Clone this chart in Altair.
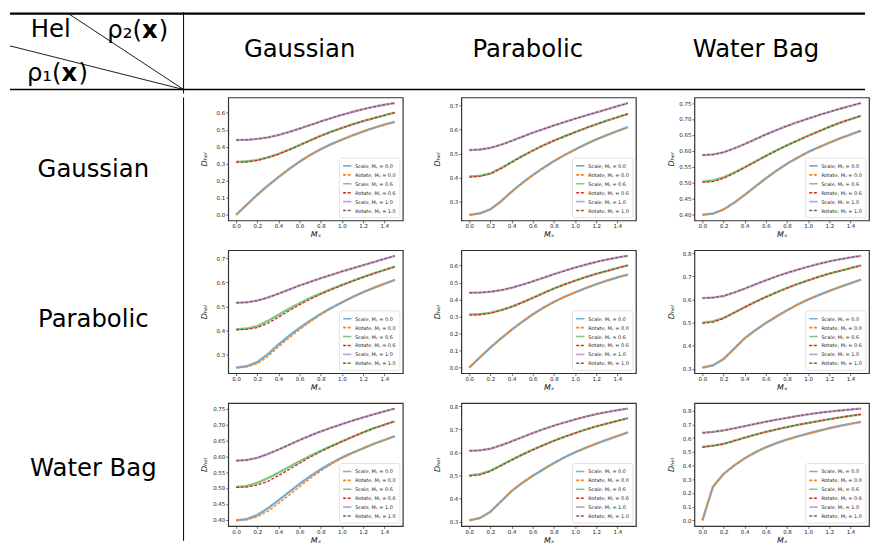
import altair as alt
import pandas as pd

# ---------------- data ----------------
X_MX = [0.0, 0.1, 0.2, 0.3, 0.4, 0.5, 0.6, 0.7, 0.8, 0.9, 1.0, 1.1, 1.2, 1.3, 1.4, 1.5]
X_TICKS = [0.0, 0.2, 0.4, 0.6, 0.8, 1.0, 1.2, 1.4]
DENSITIES = ["Gaussian", "Parabolic", "Water Bag"]
SERIES = ["Scale, Mᵧ = 0.0", "Rotate, Mᵧ = 0.0", "Scale, Mᵧ = 0.6",
          "Rotate, Mᵧ = 0.6", "Scale, Mᵧ = 1.0", "Rotate, Mᵧ = 1.0"]
SERIES_COLORS = ["#79add2", "#ff7f0e", "#80c680", "#d62728", "#bfa4d7", "#8c564b"]
SERIES_DASH = [[1, 0], [3, 1.6], [1, 0], [3, 1.6], [1, 0], [3, 1.6]]

# Gaussian / Gaussian (Parabolic / Parabolic reads the same)
GG_S0 = [0.000, 0.060, 0.118, 0.172, 0.222, 0.269, 0.313, 0.352, 0.386, 0.416, 0.442, 0.467, 0.490, 0.511, 0.530, 0.547]
GG_R0 = [0.000, 0.060, 0.118, 0.172, 0.222, 0.269, 0.313, 0.352, 0.386, 0.416, 0.442, 0.467, 0.490, 0.511, 0.530, 0.547]
GG_S6 = [0.312, 0.314, 0.322, 0.338, 0.358, 0.383, 0.410, 0.438, 0.465, 0.489, 0.511, 0.532, 0.551, 0.568, 0.585, 0.601]
GG_R6 = [0.309, 0.311, 0.320, 0.336, 0.357, 0.382, 0.409, 0.437, 0.464, 0.489, 0.511, 0.532, 0.551, 0.568, 0.585, 0.601]
GG_S10 = [0.440, 0.441, 0.446, 0.455, 0.469, 0.487, 0.507, 0.528, 0.549, 0.569, 0.588, 0.605, 0.621, 0.635, 0.647, 0.657]
GG_R10 = [0.440, 0.441, 0.446, 0.455, 0.469, 0.487, 0.507, 0.528, 0.549, 0.569, 0.588, 0.605, 0.621, 0.635, 0.647, 0.657]

# Gaussian rho1 / Parabolic rho2
GP_S0 = [0.246, 0.252, 0.269, 0.302, 0.342, 0.378, 0.411, 0.441, 0.469, 0.494, 0.517, 0.539, 0.559, 0.577, 0.594, 0.610]
GP_R0 = [0.246, 0.252, 0.269, 0.302, 0.342, 0.378, 0.411, 0.441, 0.469, 0.494, 0.517, 0.539, 0.559, 0.577, 0.594, 0.610]
GP_S6 = [0.405, 0.408, 0.418, 0.440, 0.465, 0.490, 0.513, 0.535, 0.554, 0.572, 0.589, 0.606, 0.622, 0.637, 0.651, 0.665]
GP_R6 = [0.403, 0.406, 0.416, 0.438, 0.464, 0.489, 0.512, 0.534, 0.554, 0.572, 0.589, 0.606, 0.622, 0.637, 0.651, 0.665]
GP_S10 = [0.515, 0.517, 0.524, 0.537, 0.553, 0.570, 0.587, 0.602, 0.617, 0.631, 0.645, 0.658, 0.671, 0.684, 0.697, 0.710]
GP_R10 = [0.515, 0.517, 0.524, 0.537, 0.553, 0.570, 0.587, 0.602, 0.617, 0.631, 0.645, 0.658, 0.671, 0.684, 0.697, 0.710]
# Parabolic rho1 / Gaussian rho2 : rotate curves sit a little lower
PG_R0 = [0.246, 0.249, 0.262, 0.292, 0.332, 0.369, 0.404, 0.436, 0.466, 0.492, 0.516, 0.538, 0.559, 0.577, 0.594, 0.610]
PG_R6 = [0.403, 0.405, 0.412, 0.430, 0.455, 0.482, 0.507, 0.530, 0.551, 0.570, 0.588, 0.605, 0.621, 0.636, 0.651, 0.665]

# Gaussian rho1 / Water Bag rho2
GW_S0 = [0.398, 0.402, 0.415, 0.436, 0.461, 0.487, 0.513, 0.537, 0.559, 0.578, 0.596, 0.611, 0.625, 0.639, 0.651, 0.663]
GW_R0 = [0.398, 0.402, 0.415, 0.436, 0.461, 0.487, 0.513, 0.537, 0.559, 0.578, 0.596, 0.611, 0.625, 0.639, 0.651, 0.663]
GW_S6 = [0.503, 0.506, 0.516, 0.531, 0.548, 0.566, 0.584, 0.601, 0.617, 0.632, 0.647, 0.661, 0.675, 0.688, 0.699, 0.710]
GW_R6 = [0.500, 0.503, 0.513, 0.529, 0.547, 0.565, 0.583, 0.600, 0.617, 0.632, 0.647, 0.661, 0.675, 0.688, 0.699, 0.710]
GW_S10 = [0.586, 0.588, 0.595, 0.607, 0.621, 0.636, 0.651, 0.665, 0.678, 0.690, 0.701, 0.712, 0.722, 0.732, 0.741, 0.750]
GW_R10 = [0.586, 0.588, 0.595, 0.607, 0.621, 0.636, 0.651, 0.665, 0.678, 0.690, 0.701, 0.712, 0.722, 0.732, 0.741, 0.750]
# Water Bag rho1 / Gaussian rho2 : rotate curves sit a little lower
WG_R0 = [0.398, 0.400, 0.409, 0.427, 0.451, 0.477, 0.504, 0.530, 0.554, 0.575, 0.594, 0.610, 0.624, 0.638, 0.651, 0.663]
WG_R6 = [0.502, 0.503, 0.509, 0.521, 0.539, 0.558, 0.578, 0.597, 0.615, 0.631, 0.646, 0.661, 0.675, 0.688, 0.699, 0.710]

# Parabolic / Water Bag (either order)
PW_S0 = [0.305, 0.315, 0.342, 0.387, 0.432, 0.467, 0.498, 0.526, 0.553, 0.578, 0.600, 0.619, 0.637, 0.654, 0.670, 0.686]
PW_R0 = [0.305, 0.315, 0.342, 0.387, 0.432, 0.467, 0.498, 0.526, 0.553, 0.578, 0.600, 0.619, 0.637, 0.654, 0.670, 0.686]
PW_S6 = [0.500, 0.505, 0.520, 0.543, 0.567, 0.590, 0.611, 0.631, 0.650, 0.667, 0.683, 0.698, 0.712, 0.724, 0.736, 0.747]
PW_R6 = [0.497, 0.502, 0.518, 0.542, 0.566, 0.589, 0.610, 0.630, 0.649, 0.667, 0.683, 0.698, 0.712, 0.724, 0.736, 0.747]
PW_S10 = [0.606, 0.608, 0.615, 0.630, 0.647, 0.665, 0.683, 0.700, 0.715, 0.729, 0.742, 0.754, 0.765, 0.774, 0.782, 0.789]
PW_R10 = [0.606, 0.608, 0.615, 0.630, 0.647, 0.665, 0.683, 0.700, 0.715, 0.729, 0.742, 0.754, 0.765, 0.774, 0.782, 0.789]

# Water Bag / Water Bag
WW_S0 = [0.000, 0.245, 0.338, 0.400, 0.452, 0.496, 0.533, 0.563, 0.589, 0.612, 0.633, 0.653, 0.672, 0.689, 0.704, 0.718]
WW_R0 = [0.000, 0.245, 0.338, 0.400, 0.452, 0.496, 0.533, 0.563, 0.589, 0.612, 0.633, 0.653, 0.672, 0.689, 0.704, 0.718]
WW_S6 = [0.536, 0.545, 0.558, 0.580, 0.603, 0.625, 0.645, 0.663, 0.680, 0.696, 0.710, 0.724, 0.738, 0.750, 0.762, 0.773]
WW_R6 = [0.533, 0.543, 0.557, 0.579, 0.603, 0.625, 0.645, 0.663, 0.680, 0.696, 0.710, 0.724, 0.738, 0.750, 0.762, 0.773]
WW_S10 = [0.638, 0.645, 0.656, 0.671, 0.687, 0.703, 0.719, 0.734, 0.747, 0.761, 0.773, 0.784, 0.793, 0.801, 0.808, 0.815]
WW_R10 = [0.638, 0.645, 0.656, 0.671, 0.687, 0.703, 0.719, 0.734, 0.747, 0.761, 0.773, 0.784, 0.793, 0.801, 0.808, 0.815]

Y_TICKS_A = [0.0, 0.1, 0.2, 0.3, 0.4, 0.5, 0.6]
Y_TICKS_B = [0.3, 0.4, 0.5, 0.6, 0.7]
Y_TICKS_C = [0.40, 0.45, 0.50, 0.55, 0.60, 0.65, 0.70, 0.75]
Y_TICKS_D = [0.3, 0.4, 0.5, 0.6, 0.7, 0.8]
Y_TICKS_E = [0.0, 0.1, 0.2, 0.3, 0.4, 0.5, 0.6, 0.7, 0.8]

# (row = rho1, col = rho2)
PANELS = {
    (0, 0): ([GG_S0, GG_R0, GG_S6, GG_R6, GG_S10, GG_R10], Y_TICKS_A, ".1f"),
    (0, 1): ([GP_S0, GP_R0, GP_S6, GP_R6, GP_S10, GP_R10], Y_TICKS_B, ".1f"),
    (0, 2): ([GW_S0, GW_R0, GW_S6, GW_R6, GW_S10, GW_R10], Y_TICKS_C, ".2f"),
    (1, 0): ([GP_S0, PG_R0, GP_S6, PG_R6, GP_S10, GP_R10], Y_TICKS_B, ".1f"),
    (1, 1): ([GG_S0, GG_R0, GG_S6, GG_R6, GG_S10, GG_R10], Y_TICKS_A, ".1f"),
    (1, 2): ([PW_S0, PW_R0, PW_S6, PW_R6, PW_S10, PW_R10], Y_TICKS_D, ".1f"),
    (2, 0): ([GW_S0, WG_R0, GW_S6, WG_R6, GW_S10, GW_R10], Y_TICKS_C, ".2f"),
    (2, 1): ([PW_S0, PW_R0, PW_S6, PW_R6, PW_S10, PW_R10], Y_TICKS_D, ".1f"),
    (2, 2): ([WW_S0, WW_R0, WW_S6, WW_R6, WW_S10, WW_R10], Y_TICKS_E, ".1f"),
}

FONT = "DejaVu Sans"
PW_, PH_ = 176, 124          # plot area of each small panel
HEAD_W, HEAD_H = 862, 82     # header strip
HEAD_LINE = 78               # y of the rule under the header
LAB_W, BODY_H = 175, 447     # row-label column


def independent(ch):
    return ch.resolve_scale(color="independent", strokeDash="independent").resolve_legend(
        color="independent", strokeDash="independent")


def make_panel(series_lists, yticks, yfmt):
    recs = []
    for name, ys in zip(SERIES, series_lists):
        for xv, yv in zip(X_MX, ys):
            recs.append({"Mx": xv, "D": yv, "series": name, "kind": name.split(",")[0]})
    df = pd.DataFrame(recs)
    lo, hi = float(df["D"].min()), float(df["D"].max())
    pad = 0.05 * (hi - lo)
    leg = alt.Legend(title=None, orient="bottom-right", offset=3, fillColor="white",
                     strokeColor="#cfcfcf", cornerRadius=2, padding=3,
                     labelFontSize=5, labelFont=FONT, labelColor="#222222", labelOffset=3,
                     labelLimit=120, symbolType="stroke", symbolSize=70,
                     symbolStrokeWidth=1.6, rowPadding=0)
    base = alt.Chart(df).encode(
        x=alt.X("Mx:Q", scale=alt.Scale(domain=[-0.075, 1.575], nice=False, zero=False),
                axis=alt.Axis(values=X_TICKS, format=".1f", title="Mₓ")),
        y=alt.Y("D:Q", scale=alt.Scale(domain=[lo - pad, hi + pad], nice=False, zero=False),
                axis=alt.Axis(values=yticks, format=yfmt, title="Dₕₑₗ")),
        color=alt.Color("series:N", scale=alt.Scale(domain=SERIES, range=SERIES_COLORS), legend=leg),
        strokeDash=alt.StrokeDash("series:N", scale=alt.Scale(domain=SERIES, range=SERIES_DASH), legend=leg),
        order=alt.Order("Mx:Q"),
    )
    scale_lines = base.transform_filter(alt.datum.kind == "Scale").mark_line(strokeWidth=2.4)
    rotate_lines = base.transform_filter(alt.datum.kind == "Rotate").mark_line(strokeWidth=1.3)
    return alt.layer(scale_lines, rotate_lines).properties(width=PW_, height=PH_)


one = pd.DataFrame({"k": [0]})


def rule(x, y, x2=None, y2=None, w=1.0):
    enc = {"x": alt.value(x), "y": alt.value(y)}
    if x2 is not None:
        enc["x2"] = alt.value(x2)
    if y2 is not None:
        enc["y2"] = alt.value(y2)
    return alt.Chart(one).mark_rule(color="black", strokeWidth=w).encode(**enc)


def text(s, x, y, align="center", baseline="middle", size=24.5, weight="normal"):
    return alt.Chart(one).mark_text(text=s, font=FONT, fontSize=size, fontWeight=weight,
                                    align=align, baseline=baseline, color="black").encode(
        x=alt.value(x), y=alt.value(y))


# ---------------- header strip ----------------
header_layers = [
    rule(0, 1.5, x2=HEAD_W, w=2.4),
    rule(0, HEAD_LINE, x2=HEAD_W, w=1.6),
    rule(LAB_W, 0, y2=HEAD_H, w=1.0),
    rule(59, 1.5, x2=LAB_W, y2=HEAD_LINE, w=0.9),
    rule(0, 34, x2=LAB_W, y2=HEAD_LINE, w=0.9),
    text("Hel", 21, 25, align="left", baseline="alphabetic"),
    text("ρ₂(", 133, 26, align="right", baseline="alphabetic"),
    text("x", 133, 26, align="left", baseline="alphabetic", weight="bold"),
    text(")", 150, 26, align="left", baseline="alphabetic"),
    text("ρ₁(", 52, 69, align="right", baseline="alphabetic"),
    text("x", 52, 69, align="left", baseline="alphabetic", weight="bold"),
    text(")", 69, 69, align="left", baseline="alphabetic"),
]
for name, cx in zip(DENSITIES, [292, 522, 752]):
    header_layers.append(text(name, cx, 38))
header = alt.layer(*header_layers).properties(
    width=HEAD_W, height=HEAD_H, view=alt.ViewBackground(stroke="transparent"))

# ---------------- row-label column ----------------
label_layers = [rule(LAB_W, 0, y2=BODY_H, w=1.0)]
for name, cy in zip(DENSITIES, [73, 224, 375]):
    label_layers.append(text(name, 84, cy))
labels = alt.layer(*label_layers).properties(
    width=LAB_W, height=BODY_H, view=alt.ViewBackground(stroke="transparent"))

# ---------------- grid of panels ----------------
rows = []
for r in range(3):
    cells = [make_panel(*PANELS[(r, c)]) for c in range(3)]
    rows.append(independent(alt.hconcat(*cells, spacing=29)))
grid = independent(alt.vconcat(*rows, spacing=9))

body = independent(alt.hconcat(labels, grid, spacing=14))
chart = independent(alt.vconcat(header, body, spacing=0)).properties(padding=0)

chart = (chart.configure(font=FONT)
         .configure_view(stroke="#333333", strokeWidth=1.2)
         .configure_legend(strokeWidth=0.6)
         .configure_axis(domain=False, grid=False, ticks=True, tickSize=2.5, tickWidth=0.7,
                         tickColor="#333333", labelFontSize=5.5, labelColor="#222222",
                         labelPadding=1, labelFont=FONT, titleFont=FONT, titleFontSize=8,
                         titleFontWeight="normal", titleFontStyle="italic", titleColor="#111111",
                         titlePadding=1.5)
         .configure_axisX(minExtent=9, maxExtent=9)
         .configure_axisY(minExtent=18, maxExtent=18))

chart.save("out.html", embed_options={"renderer": "svg", "actions": False})
